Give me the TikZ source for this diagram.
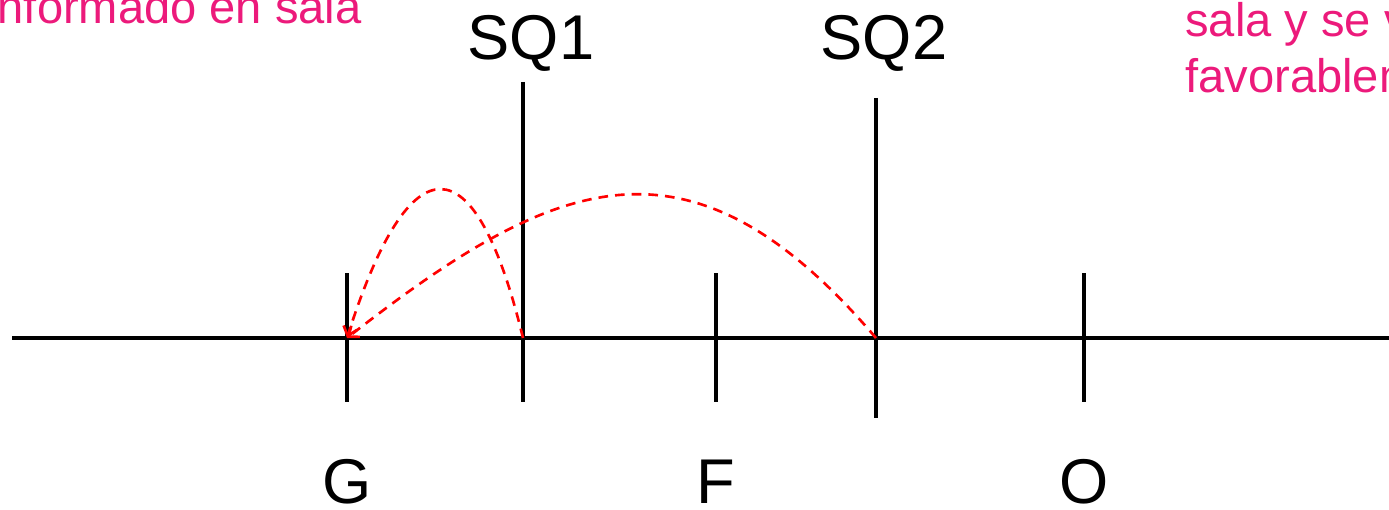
\documentclass[tikz,border=0pt]{standalone}
\usepackage{fontspec}
\setmainfont{Liberation Sans}
\usetikzlibrary{arrows.meta}
\definecolor{notepink}{RGB}{236,26,123}
\begin{document}
\begin{tikzpicture}[x=0.02cm,y=-0.02cm,
  axisline/.style={line width=1.8pt, black},
  tickline/.style={line width=1.8pt, black},
  lbl/.style={font=\fontsize{36}{43}\selectfont, anchor=base, inner sep=0pt, text depth=0pt},
  note/.style={font=\fontsize{26.8}{32}\selectfont, text=notepink, inner sep=0pt, align=left},
  jump/.style={red, line width=1.5pt, dash pattern=on 5.5pt off 4pt, -{Straight Barb[length=5pt,width=8pt]}}]
\useasboundingbox (0,0) rectangle (1389,510);
% points on the line
\coordinate (axL) at (12,338);
\coordinate (axR) at (1389,338);
\coordinate (g) at (347,338);
\coordinate (sq1) at (523,338);
\coordinate (f) at (716,338);
\coordinate (sq2) at (876,338);
\coordinate (o) at (1084,338);
\draw[axisline] (axL) -- (axR);
\draw[tickline] (g) ++(0,-65) -- ++(0,129);
\draw[tickline] (f) ++(0,-65) -- ++(0,129);
\draw[tickline] (o) ++(0,-65) -- ++(0,129);
\draw[tickline] (sq1) ++(0,-256) -- ++(0,320);
\draw[tickline] (sq2) ++(0,-240) -- ++(0,320);
% labels
\node[lbl] (lblsq1) at (531,60) {SQ1};
\node[lbl] (lblsq2) at (884,60) {SQ2};
\node[lbl] (lblg) at (347,503) {G};
\node[lbl] (lblf) at (716,503) {F};
\node[lbl] (lblo) at (1084,503) {O};
% back steps
\draw[jump] (sq1) .. controls (475,140) and (410,140) .. (g);
\draw[jump] (sq2) .. controls (690,120) and (556,175) .. (g);
% notes
\begin{scope}
\clip (0,0) rectangle (1389,510);
\node[note, anchor=base east] (noteL) at (362,24) {nformado en sala};
\node[note, anchor=base west] (noteR1) at (1185,37) {sala y se v};
\node[note, anchor=base west] (noteR2) at (1185,92) {favorablem};
\end{scope}
\end{tikzpicture}
\end{document}
